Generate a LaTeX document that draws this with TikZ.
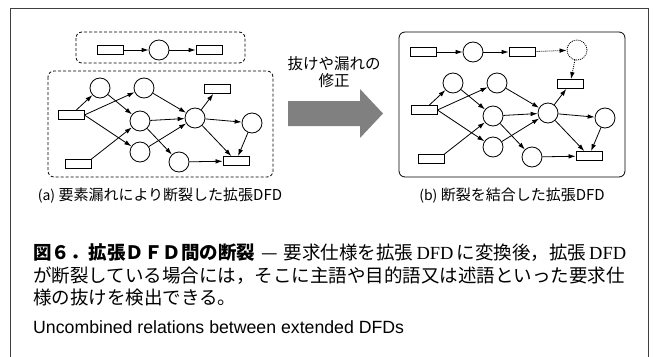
\documentclass[tikz,border=0pt]{standalone}
\usepackage{fontspec}
\setmainfont{Liberation Sans}
\newfontfamily\jp{Noto Sans CJK JP}
\newfontfamily\latinserif{Liberation Serif}
\usetikzlibrary{arrows.meta}

% DFD building blocks
\tikzset{
  proc/.style={circle, draw, line width=0.8pt, minimum size=20pt, inner sep=0pt},
  store/.style={rectangle, draw, line width=0.8pt, minimum width=26pt, minimum height=9pt, inner sep=0pt},
  flow/.style={line width=0.8pt, -{Latex[length=7pt,width=4.6pt]}},
  missing/.style={line width=0.8pt, dash pattern=on 1pt off 1pt},
  groupbox/.style={line width=0.8pt, rounded corners=6pt},
  frameline/.style={line width=1pt, black!75},
  panellabel/.style={font=\jp\fontsize{15}{15}\selectfont, anchor=base},
  captionline/.style={font=\jp\fontsize{18.5}{18.5}\selectfont, anchor=base west, inner sep=0pt},
}

% the connected extended DFD (coordinates of panel (a))
\newcommand\dfdgraph{%
  \node[proc]  (A)  at (100,88)  {};
  \node[proc]  (B)  at (144,88)  {};
  \node[proc]  (C)  at (140,121) {};
  \node[proc]  (D)  at (140,152) {};
  \node[proc]  (E)  at (179,162) {};
  \node[proc]  (F)  at (195,118) {};
  \node[proc]  (G)  at (252,123) {};
  \node[store] (R1) at (71,115)  {};
  \node[store] (R2) at (78,164)  {};
  \node[store] (R3) at (217,89)  {};
  \node[store] (R4) at (236,161) {};
  \draw[flow] (R1) -- (A);
  \draw[flow] (R1.east) -- (B);
  \draw[flow] (R1.east) -- (D);
  \draw[flow] (A) -- (C);
  \draw[flow] (B) -- (F);
  \draw[flow] (C) -- (F);
  \draw[flow] (C) -- (E);
  \draw[flow] (D) -- (F);
  \draw[flow] (R2.north east) -- (C);
  \draw[flow] (F) -- (R3);
  \draw[flow] (F) -- (G);
  \draw[flow] (F) -- (R4);
  \draw[flow] (G) -- (R4);
  \draw[flow] (E) -- (R4);
}

\begin{document}
\begin{tikzpicture}[x=1pt,y=-1pt]
\useasboundingbox (0,0) rectangle (653,356);
\clip (0,0) rectangle (653,356);

% outer frame
\draw[frameline] (10,370) -- (10,8) -- (648,8) -- (648,370);

% ---- panel (a): split DFD ----
\draw[groupbox, dash pattern=on 3pt off 2pt] (76,32) rectangle (245,63);
\draw[groupbox, dash pattern=on 3pt off 2pt] (48,71) rectangle (273,177);
\node[store] (a-s1) at (110,50) {};
\node[proc]  (a-p1) at (159,50) {};
\node[store] (a-s2) at (209,50) {};
\draw[flow] (a-s1) -- (a-p1);
\draw[flow] (a-p1) -- (a-s2);
\begin{scope}[name prefix=a-]
  \dfdgraph
\end{scope}
\node[panellabel] (a-label) at (160,200.5)
  {{\fontsize{14}{14}\selectfont(a)} 要素漏れにより断裂した拡張DFD};

% ---- correction arrow ----
\node[font=\jp\fontsize{15.5}{15.5}\selectfont, anchor=base] (fixtext) at (334,69) {抜けや漏れの};
\node[font=\jp\fontsize{15.5}{15.5}\selectfont, anchor=base] (fixtext2) at (334,86) {修正};
\fill[black!50] (288,101) -- (360,101) -- (360,89) -- (383,113.5) -- (360,138)
  -- (360,126) -- (288,126) -- cycle;

% ---- panel (b): joined DFD ----
\draw[groupbox] (399,32) rectangle (625,177);
\node[store] (b-s1) at (423.5,52) {};
\node[proc]  (b-p1) at (473,52)   {};
\node[store] (b-s2) at (522,52)   {};
\node[proc, missing] (b-pm) at (577,50) {};
\draw[flow] (b-s1) -- (b-p1);
\draw[flow] (b-p1) -- (b-s2);
\begin{scope}[shift={(353,-5)}, name prefix=b-]
  \dfdgraph
\end{scope}
\draw[flow, missing] (b-s2) -- (b-pm);
\draw[flow, missing] (b-pm) -- (b-R3);
\node[panellabel] (b-label) at (512,200.5)
  {{\fontsize{14}{14}\selectfont(b)} 断裂を結合した拡張DFD};

% ---- caption ----
\node[captionline] (cap1) at (33,259)
  {\makebox[593pt][s]{{\bfseries 図６．拡張ＤＦＤ間の断裂} — 要求仕様を拡張\,{\latinserif DFD}\,に変換後，拡張\,{\latinserif DFD}}};
\node[captionline] (cap2) at (33,282)
  {が断裂している場合には，そこに主語や目的語又は述語といった要求仕};
\node[captionline] (cap3) at (33,304)
  {様の抜けを検出できる。};
\node[captionline, font=\fontsize{17.7}{17.7}\selectfont] (cap4) at (33,333)
  {Uncombined relations between extended DFDs};
\end{tikzpicture}
\end{document}
